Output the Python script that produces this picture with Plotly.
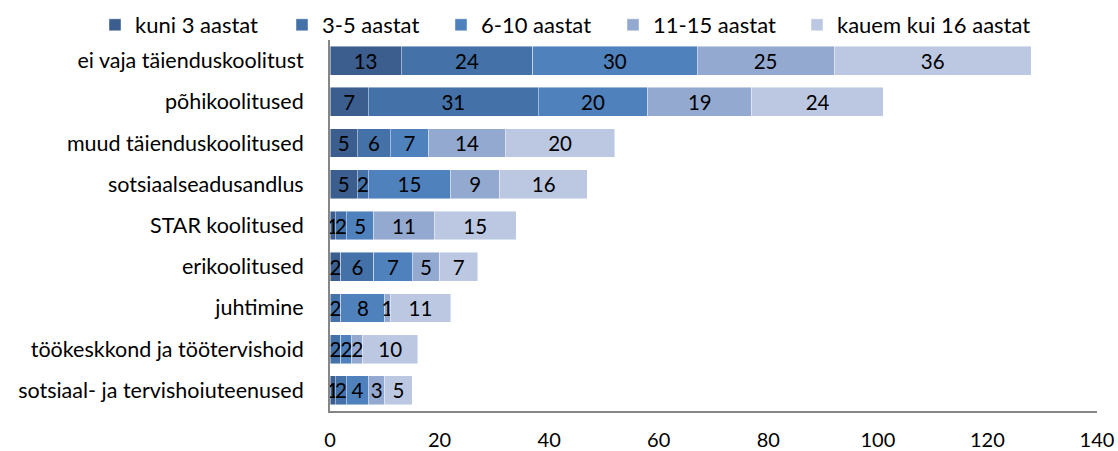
import plotly.graph_objects as go

categories = [
    "ei vaja täienduskoolitust",
    "põhikoolitused",
    "muud täienduskoolitused",
    "sotsiaalseadusandlus",
    "STAR koolitused",
    "erikoolitused",
    "juhtimine",
    "töökeskkond ja töötervishoid",
    "sotsiaal- ja tervishoiuteenused",
]

series_names = ["kuni 3 aastat", "3-5 aastat", "6-10 aastat", "11-15 aastat", "kauem kui 16 aastat"]

kuni_3 = [13, 7, 5, 5, 1, 2, 0, 0, 1]
aastat_3_5 = [24, 31, 6, 2, 2, 6, 2, 2, 2]
aastat_6_10 = [30, 20, 7, 15, 5, 7, 8, 2, 4]
aastat_11_15 = [25, 19, 14, 9, 11, 5, 1, 2, 3]
kauem_16 = [36, 24, 20, 16, 15, 7, 11, 10, 5]

series_values = [kuni_3, aastat_3_5, aastat_6_10, aastat_11_15, kauem_16]
colors = ["#3b5e8f", "#4472a8", "#4f81bd", "#94a9d0", "#bcc8e1"]

x_ticks = [0, 20, 40, 60, 80, 100, 120, 140]

# left edge (px) of each legend entry along the top row
legend_left_px = [95, 282, 441, 613, 797]

FONT = "Lato, 'Open Sans', sans-serif"

fig = go.Figure()
legend_layouts = {}
for i, (name, vals, col, lx) in enumerate(zip(series_names, series_values, colors, legend_left_px)):
    key = "legend" if i == 0 else f"legend{i + 1}"
    fig.add_trace(go.Bar(
        name=name,
        y=categories,
        x=vals,
        orientation="h",
        marker=dict(color=col, line=dict(color="rgba(255,255,255,0.55)", width=0.8)),
        text=[str(v) if v else "" for v in vals],
        textposition="inside",
        insidetextanchor="middle",
        textangle=0,
        constraintext="none",
        textfont=dict(color="#000000", size=20.5, family=FONT),
        cliponaxis=False,
        legend=key,
    ))
    legend_layouts[key] = dict(
        orientation="h",
        xref="container",
        yref="container",
        x=lx / 1118,
        y=1 - 25 / 451,
        xanchor="left",
        yanchor="middle",
        font=dict(size=22, family=FONT, color="#000000"),
        itemwidth=30,
        bgcolor="rgba(0,0,0,0)",
    )

fig.update_layout(
    barmode="stack",
    bargap=0.3,
    width=1118,
    height=451,
    autosize=False,
    margin=dict(l=330, r=21, t=40, b=40, autoexpand=False),
    plot_bgcolor="white",
    paper_bgcolor="white",
    font=dict(family=FONT, size=20, color="#000000"),
    showlegend=True,
    **legend_layouts,
)

fig.update_xaxes(
    range=[0, 140],
    tickvals=x_ticks,
    ticktext=[str(t) for t in x_ticks],
    showgrid=False,
    zeroline=False,
    showline=True,
    linecolor="#868686",
    linewidth=2,
    ticks="",
    ticklabelstandoff=10,
    tickfont=dict(size=20, family=FONT),
    automargin=False,
)

fig.update_yaxes(
    categoryorder="array",
    categoryarray=categories,
    autorange="reversed",
    showgrid=False,
    zeroline=False,
    showline=True,
    linecolor="#868686",
    linewidth=2,
    ticks="",
    ticklabelstandoff=20,
    tickfont=dict(size=21.5, family=FONT),
    automargin=False,
)

fig.write_html("out.html")
